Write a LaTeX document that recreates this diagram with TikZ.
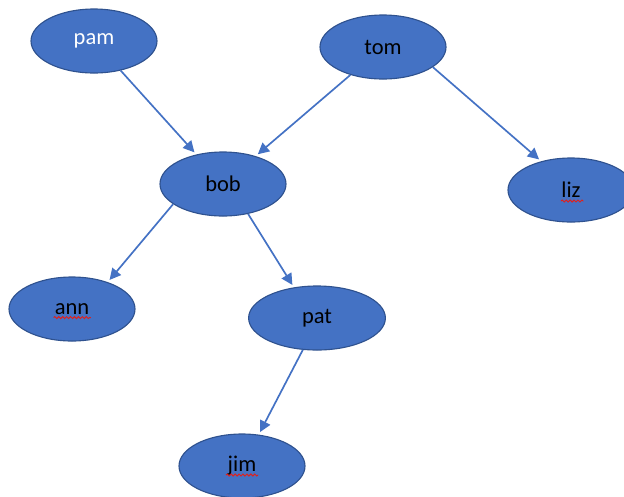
\documentclass[tikz,border=0pt]{standalone}
\usepackage{fontspec}
\setmainfont{Carlito}
\usepackage{tikz}
\usetikzlibrary{arrows.meta,calc,shapes.geometric,decorations.pathmorphing}
\definecolor{OfficeBlue}{HTML}{4472C4}
\definecolor{OfficeEdge}{HTML}{2F528F}
\definecolor{SpellRed}{HTML}{E0201B}
\tikzset{
  person/.style={ellipse,draw=OfficeEdge,fill=OfficeBlue,line width=.8pt,
    minimum width=3.15cm,minimum height=1.6cm,inner sep=0pt,
    font=\fontsize{16}{18}\selectfont},
  parent/.style={draw=OfficeBlue,line width=1.2pt,-{Triangle[length=8pt,width=8pt]},shorten >=2pt},
  spell/.style={draw=SpellRed,line width=.7pt,decorate,
    decoration={snake,amplitude=.7pt,segment length=2.8pt}}
}

\begin{document}
\begin{tikzpicture}
    \useasboundingbox (0,0) rectangle (15.6,-12.4);

    \node[person,text=white] (pam) at (2.35,-1.025) {pam};
    \node[person] (tom) at (9.575,-1.175) {tom};
    \node[person] (bob) at (5.575,-4.6) {bob};
    \node[person] (liz) at (14.275,-4.75) {liz};
    \node[person] (ann) at (1.8,-7.725) {ann};
    \node[person,minimum width=3.42cm] (pat) at (7.925,-7.95) {pat};
    \node[person] (jim) at (6.05,-11.65) {jim};

    \draw[parent] (pam) -- (bob);
    \draw[parent] (tom) -- (bob);
    \draw[parent] (tom.-22) -- (liz.136);
    \draw[parent] (bob.-158) -- (ann.37);
    \draw[parent] (bob.-50) -- (pat.127);
    \draw[parent] (pat.-114) -- (jim.62);

    % spell-check marks
    \draw[spell] ($(ann.base)+(-0.46,-0.08)$) -- ++(0.93,0);
    \draw[spell] ($(liz.base)+(-0.25,-0.08)$) -- ++(0.56,0);
    \draw[spell] ($(jim.base)+(-0.4,-0.08)$) -- ++(0.8,0);
\end{tikzpicture}
\end{document}
